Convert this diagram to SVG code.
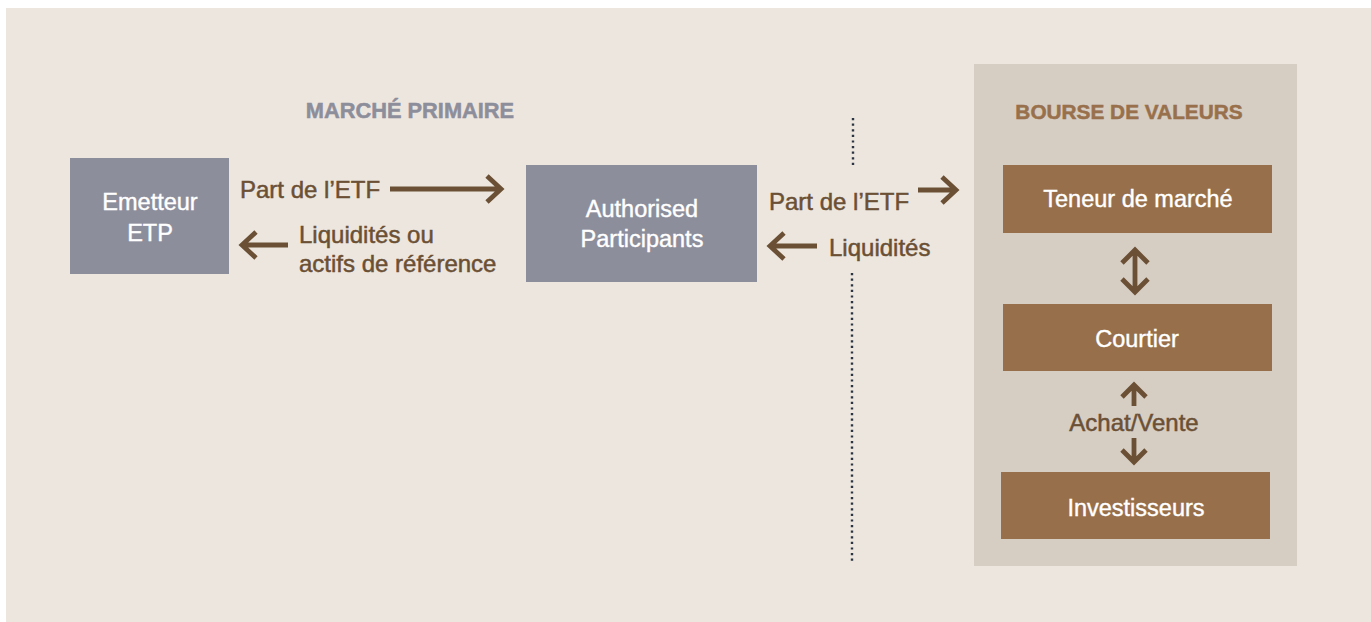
<svg xmlns="http://www.w3.org/2000/svg" width="1371" height="622" viewBox="0 0 1371 622">
<style>
.t{font-family:"Liberation Sans",Arial,sans-serif;font-size:24px}
.box{font-family:"Liberation Sans",Arial,sans-serif;font-size:23.5px;fill:#ffffff;stroke:#ffffff;stroke-width:0.4;text-anchor:middle}
.lbl{fill:#6b5035;stroke:#6b5035;stroke-width:0.5}
.ttl{font-family:"Liberation Sans",Arial,sans-serif;font-weight:bold;stroke-width:0.5}
.arr{fill:none;stroke:#6b5035;stroke-width:4.8;stroke-linecap:butt;stroke-linejoin:miter}
.dot{fill:none;stroke:#2b3440;stroke-width:2.4;stroke-dasharray:2.2 3.4}
</style>
<rect x="0" y="0" width="1371" height="622" fill="#ffffff"/>
<rect x="6" y="8" width="1365" height="614" fill="#ede6df"/>
<rect id="panel" x="974" y="64" width="323" height="502" fill="#d6cdc3"/>
<g id="titles">
<text class="ttl" x="410" y="118" font-size="21.8" fill="#8d8e9b" stroke="#8d8e9b" text-anchor="middle">MARCHÉ PRIMAIRE</text>
<text class="ttl" x="1129" y="119" font-size="20.8" fill="#98704b" stroke="#98704b" text-anchor="middle">BOURSE DE VALEURS</text>
</g>
<g id="emetteur">
<rect x="70" y="158" width="159" height="116" fill="#8d8e9b"/>
<text class="box" x="150" y="210">Emetteur</text>
<text class="box" x="150" y="241">ETP</text>
</g>
<g id="authorised">
<rect x="526" y="165" width="231" height="117" fill="#8d8e9b"/>
<text class="box" x="642" y="217">Authorised</text>
<text class="box" x="642" y="247">Participants</text>
</g>
<g id="teneur">
<rect x="1003" y="165" width="269" height="68" fill="#97704b"/>
<text class="box" x="1138" y="207">Teneur de marché</text>
</g>
<g id="courtier">
<rect x="1003" y="304" width="269" height="67" fill="#97704b"/>
<text class="box" x="1137" y="347">Courtier</text>
</g>
<g id="investisseurs">
<rect x="1001" y="472" width="269" height="67" fill="#97704b"/>
<text class="box" x="1136" y="516">Investisseurs</text>
</g>
<g id="connectors">
<line class="dot" x1="853" y1="118" x2="853" y2="166"/>
<line class="dot" x1="852" y1="273" x2="852" y2="563"/>
<path class="arr" d="M390 189 H501 M487 176 L501 189 L487 202"/>
<path class="arr" d="M288 245 H243 M256 232 L242 245 L256 258"/>
<path class="arr" d="M918 190 H955 M942 177 L956 190 L942 203"/>
<path class="arr" d="M817 246 H772 M784 233 L770 246 L784 259"/>
<path class="arr" d="M1135 250 V292 M1122 263 L1135 250 L1148 263 M1122 279 L1135 292 L1148 279"/>
<path class="arr" d="M1134 406 V386 M1122 397 L1134 385 L1146 397"/>
<path class="arr" d="M1134 438 V461 M1122 450 L1134 462 L1146 450"/>
<text class="t lbl" x="240" y="198">Part de l’ETF</text>
<text class="t lbl" x="299" y="243">Liquidités ou</text>
<text class="t lbl" x="299" y="272">actifs de référence</text>
<text class="t lbl" x="769" y="210">Part de l’ETF</text>
<text class="t lbl" x="829" y="256">Liquidités</text>
<text class="t lbl" x="1134" y="431" text-anchor="middle">Achat/Vente</text>
</g>
</svg>
